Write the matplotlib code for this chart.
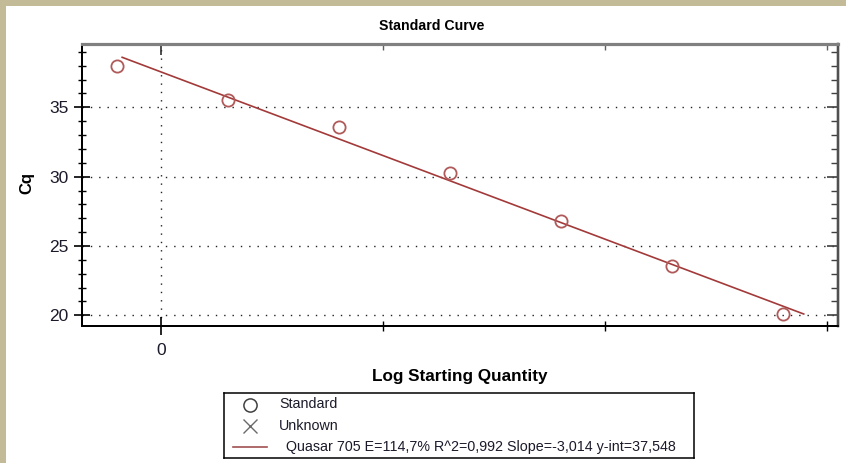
import matplotlib
matplotlib.use("Agg")
import matplotlib.pyplot as plt
from matplotlib.patches import Rectangle
import numpy as np

plt.rcParams['font.family'] = ['Liberation Sans', 'DejaVu Sans']

# ---- data ----
log_qty = [-0.4, 0.6, 1.6, 2.6, 3.6, 4.6, 5.6]
cq = [37.98, 35.53, 33.56, 30.24, 26.79, 23.56, 20.10]
fit_slope = -3.014
fit_intercept = 37.548
fit_range = [-0.35, 5.79]
legend_labels = ["Standard", "Unknown",
                 " Quasar 705 E=114,7% R^2=0,992 Slope=-3,014 y-int=37,548"]
y_major = [20, 25, 30, 35]
x_major = [0]
x_minor = [2, 4, 6]

W, H = 846, 463
fig = plt.figure(figsize=(W / 100, H / 100), dpi=100)
fig.patch.set_facecolor('white')

# beige frame strips
beige = '#C3BA98'
fig.patches.append(Rectangle((0, 1 - 6 / H), 1, 6 / H, transform=fig.transFigure,
                             facecolor=beige, edgecolor='none', zorder=0))
fig.patches.append(Rectangle((0, 0), 6 / W, 1, transform=fig.transFigure,
                             facecolor=beige, edgecolor='none', zorder=0))

L, R, T, B = 82.3, 838, 44.3, 326.3
XLIM = (-0.709, 6.099)
YLIM = (19.21, 39.54)
ax = fig.add_axes([L / W, 1 - B / H, (R - L) / W, (B - T) / H])
ax.set_xlim(*XLIM)
ax.set_ylim(*YLIM)

line_col = '#A33A3A'
pt_col = '#B05A5A'
xs = np.array(fit_range)
ax.plot(xs, fit_slope * xs + fit_intercept, color=line_col, lw=1.2, zorder=3)
ax.plot(log_qty, cq, linestyle='none', marker='o', markersize=8.8,
        markerfacecolor='none', markeredgecolor=pt_col, markeredgewidth=1.3, zorder=4)

# ticks (left / bottom)
ax.set_yticks(y_major)
ax.set_yticks(np.arange(20, 40, 1), minor=True)
ax.set_xticks(x_major)
ax.set_xticks(x_minor, minor=True)
ax.tick_params(axis='y', which='major', direction='inout', length=12, width=1.2,
               labelsize=12.5, pad=4, labelcolor='#1a1a2a')
ax.tick_params(axis='y', which='minor', direction='inout', length=6, width=1.0)
ax.tick_params(axis='x', which='major', direction='inout', length=13, width=1.2,
               labelsize=12.5, pad=5.5, labelcolor='#1a1a2a')
ax.tick_params(axis='x', which='minor', direction='inout', length=7, width=1.0)

# grid
ax.grid(True, which='major', linestyle=(0, (1, 5)), color='#222222', lw=1.0)

# right / top inward ticks through twin axes
axr = ax.twinx()
axr.set_ylim(*YLIM)
axr.set_yticks(y_major)
axr.set_yticks(np.arange(20, 40, 1), minor=True)
axr.tick_params(axis='y', which='major', direction='in', length=8, width=1.2,
                labelright=False, color='#404040')
axr.tick_params(axis='y', which='minor', direction='in', length=5, width=1.0,
                color='#404040')
axt = ax.twiny()
axt.set_xlim(*XLIM)
axt.set_xticks(x_major)
axt.set_xticks(x_minor, minor=True)
axt.tick_params(axis='x', which='major', direction='in', length=8, width=1.2,
                labeltop=False, color='#303030')
axt.tick_params(axis='x', which='minor', direction='in', length=4, width=1.0,
                color='#606060')

for a in (ax, axr, axt):
    a.spines['left'].set_color('black'); a.spines['left'].set_linewidth(1.3)
    a.spines['bottom'].set_color('black'); a.spines['bottom'].set_linewidth(1.3)
    a.spines['top'].set_color('#808080'); a.spines['top'].set_linewidth(2.2)
    a.spines['right'].set_color('#505050'); a.spines['right'].set_linewidth(1.6)

# labels
fig.text(432 / W, 1 - 26 / H, 'Standard Curve', fontsize=10.2, fontweight='bold',
         ha='center', va='center')
fig.text(27 / W, 1 - 183 / H, 'Cq', fontsize=12, fontweight='bold',
         rotation=90, ha='center', va='center')
fig.text(460 / W, 1 - 376 / H, 'Log Starting Quantity', fontsize=12.3, fontweight='bold',
         ha='center', va='center')

# legend box
lx0, lx1, ly0, ly1 = 224, 694, 393, 458
lax = fig.add_axes([lx0 / W, 1 - ly1 / H, (lx1 - lx0) / W, (ly1 - ly0) / H])
lax.set_xlim(0, lx1 - lx0)
lax.set_ylim(ly1 - ly0, 0)
lax.set_xticks([]); lax.set_yticks([])
for s in lax.spines.values():
    s.set_color('black'); s.set_linewidth(1.1)
lax.plot([26], [12], marker='o', markersize=9.5, markerfacecolor='none',
         markeredgecolor='#404040', markeredgewidth=1.1, linestyle='none')
lax.plot([26], [33], marker='x', markersize=10.5, markeredgecolor='#6a6a6a',
         markeredgewidth=1.0, linestyle='none')
lax.plot([9, 43], [54, 54], color='#A05050', lw=1.2)
lax.text(55, 11.5, legend_labels[0], fontsize=10.3, va='center', ha='left', color='#1a1a2a')
lax.text(55, 32.5, legend_labels[1], fontsize=10.3, va='center', ha='left', color='#1a1a2a')
lax.text(58, 54, legend_labels[2], fontsize=10.3, va='center', ha='left', color='#1a1a2a')

fig.savefig('out.png', dpi=100)
